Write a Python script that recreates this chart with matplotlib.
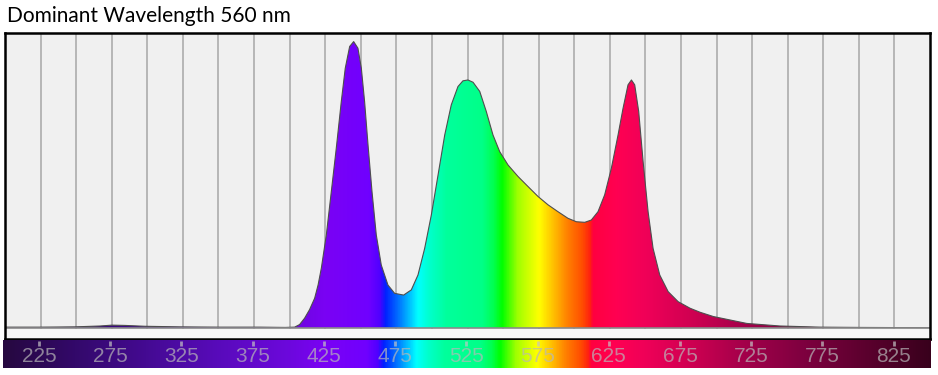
import numpy as np
import matplotlib
matplotlib.use("Agg")
import matplotlib.pyplot as plt
from matplotlib.colors import LinearSegmentedColormap, Normalize
from matplotlib.patches import Polygon
from matplotlib.transforms import blended_transform_factory

# ---------------- data ----------------
title = "Dominant Wavelength 560 nm"

wavelength = [200.0, 224.6, 249.2, 266.8, 275.2, 284.3, 298.4, 323.0, 351.1, 379.2,
              396.8, 403.5, 407.0, 410.5, 414.0, 417.6, 420.0, 422.3, 425.8, 429.3,
              432.8, 436.3, 439.1, 442.2, 445.0, 448.0, 450.4, 452.7, 455.1, 457.9,
              460.9, 464.4, 469.1, 473.8, 480.1, 485.5, 490.2, 494.9, 499.6, 504.3,
              509.0, 513.6, 518.3, 521.8, 525.3, 528.9, 533.6, 538.2, 542.9, 547.6,
              553.5, 560.5, 567.5, 574.6, 581.6, 588.6, 595.6, 601.5, 607.4, 612.0,
              616.7, 621.4, 626.1, 630.8, 634.3, 637.8, 640.2, 642.5, 645.3, 648.4,
              651.9, 655.4, 660.1, 666.0, 673.0, 681.4, 688.4, 697.8, 709.5, 721.2,
              744.6, 772.7, 800.8, 850.0]
intensity = [0.003, 0.003, 0.004, 0.007, 0.010, 0.009, 0.006, 0.004, 0.003, 0.003,
             0.002, 0.003, 0.012, 0.034, 0.064, 0.104, 0.150, 0.209, 0.325, 0.476,
             0.628, 0.790, 0.907, 0.983, 1.000, 0.977, 0.907, 0.790, 0.639, 0.476,
             0.325, 0.220, 0.150, 0.121, 0.115, 0.133, 0.185, 0.278, 0.395, 0.534,
             0.674, 0.779, 0.843, 0.863, 0.866, 0.858, 0.826, 0.756, 0.674, 0.616,
             0.569, 0.529, 0.494, 0.459, 0.430, 0.406, 0.383, 0.371, 0.369, 0.377,
             0.406, 0.465, 0.558, 0.674, 0.767, 0.849, 0.866, 0.849, 0.756, 0.581,
             0.406, 0.278, 0.185, 0.127, 0.092, 0.069, 0.055, 0.040, 0.028, 0.016,
             0.007, 0.003, 0.002, 0.001]

tick_labels = [225, 275, 325, 375, 425, 475, 525, 575, 625, 675, 725, 775, 825]
grid_wavelengths = [225, 250, 275, 300, 325, 350, 375, 400, 425, 450, 475, 500, 525,
                    550, 575, 600, 625, 650, 675, 700, 725, 750, 775, 800, 825]

# spectrum colour anchors (wavelength, colour)
spec_wl = [200, 250, 300, 350, 400, 425, 455, 463, 467, 476, 484, 490, 498, 510, 535,
           543, 549, 560, 570, 575, 585, 595, 605, 611, 613, 630, 650, 680, 720, 760,
           800, 852]
spec_col = ["#26083f", "#33096a", "#440a92", "#580bba", "#6c08dc", "#7a02f4", "#7000ff",
            "#5000ff", "#0020ff", "#0070ff", "#00c0ff", "#00ffff", "#00ffcc", "#00ff9c",
            "#00ff88", "#00ff50", "#00ff00", "#a0ff00", "#e0ff00", "#ffff00", "#ffc000",
            "#ff8000", "#ff5000", "#ff2010", "#ff0040", "#ff0052", "#f00058", "#d20052",
            "#a4004a", "#800040", "#600030", "#38001c"]

# ---------------- figure ----------------
W, H = 938, 375
fig = plt.figure(figsize=(W / 100, H / 100), dpi=100)
fig.patch.set_facecolor("white")


def rect(x0, y0, x1, y1):
    return [x0 / W, 1 - y1 / H, (x1 - x0) / W, (y1 - y0) / H]


lo, hi = 200.0, 852.0
cmap = LinearSegmentedColormap.from_list(
    "spec", [((w - lo) / (hi - lo), c) for w, c in zip(spec_wl, spec_col)], N=1024)
norm = Normalize(lo, hi)
grad = np.linspace(lo, hi, 1400)[None, :]

# main spectrum axes
ax = fig.add_axes(rect(5, 33, 930, 339))
ymin, ymax = -0.0384, 1.030
ax.set_xlim(200, 850)
ax.set_ylim(ymin, ymax)
ax.set_facecolor("#f0f0f0")
ax.axhspan(ymin, 0, color="#f6f6f6", zorder=0, lw=0)
for g in grid_wavelengths:
    ax.plot([g, g], [0, ymax], color="#a6a6a6", lw=1.1, zorder=1)

im = ax.imshow(grad, extent=[lo, hi, 0, ymax], aspect="auto", cmap=cmap, norm=norm,
               zorder=2, interpolation="bilinear")
xs = np.r_[wavelength[0], wavelength, wavelength[-1]]
ys = np.r_[0, intensity, 0]
poly = Polygon(np.column_stack([xs, ys]), closed=True, transform=ax.transData,
               facecolor="none", edgecolor="none")
ax.add_patch(poly)
im.set_clip_path(poly)
ax.plot(wavelength, intensity, color="#4e4e4e", lw=0.8, zorder=3,
        solid_joinstyle="round")
ax.axhline(0, color="#8a8a8a", lw=1.2, zorder=3)
ax.set_xticks([])
ax.set_yticks([])
for s in ax.spines.values():
    s.set_color("black")
    s.set_linewidth(1.8)
    s.set_zorder(5)

# colour bar axes
cb = fig.add_axes(rect(3.4, 340, 931, 368.3))
cb.imshow(grad, extent=[lo, hi, 0, 1], aspect="auto", cmap=cmap, norm=norm,
          interpolation="bilinear")
cb.set_xlim(200, 851.2)
cb.set_ylim(0, 1)
cb.axis("off")
tr = blended_transform_factory(cb.transData, cb.transAxes)
for t in tick_labels:
    cb.plot([t, t], [0.80, 0.95], color="#c4c4c4", alpha=0.7, lw=2.0, transform=tr,
            solid_capstyle="butt")
    cb.text(t, 0.40, str(t), transform=tr, ha="center", va="center", fontsize=15,
            family="Liberation Sans", color="#b8b8b8", alpha=0.7)

fig.text(7 / W, 1 - 21.7 / H, title, fontsize=15, family="Lato",
         ha="left", va="baseline", color="black")

fig.savefig("out.png", dpi=100)
